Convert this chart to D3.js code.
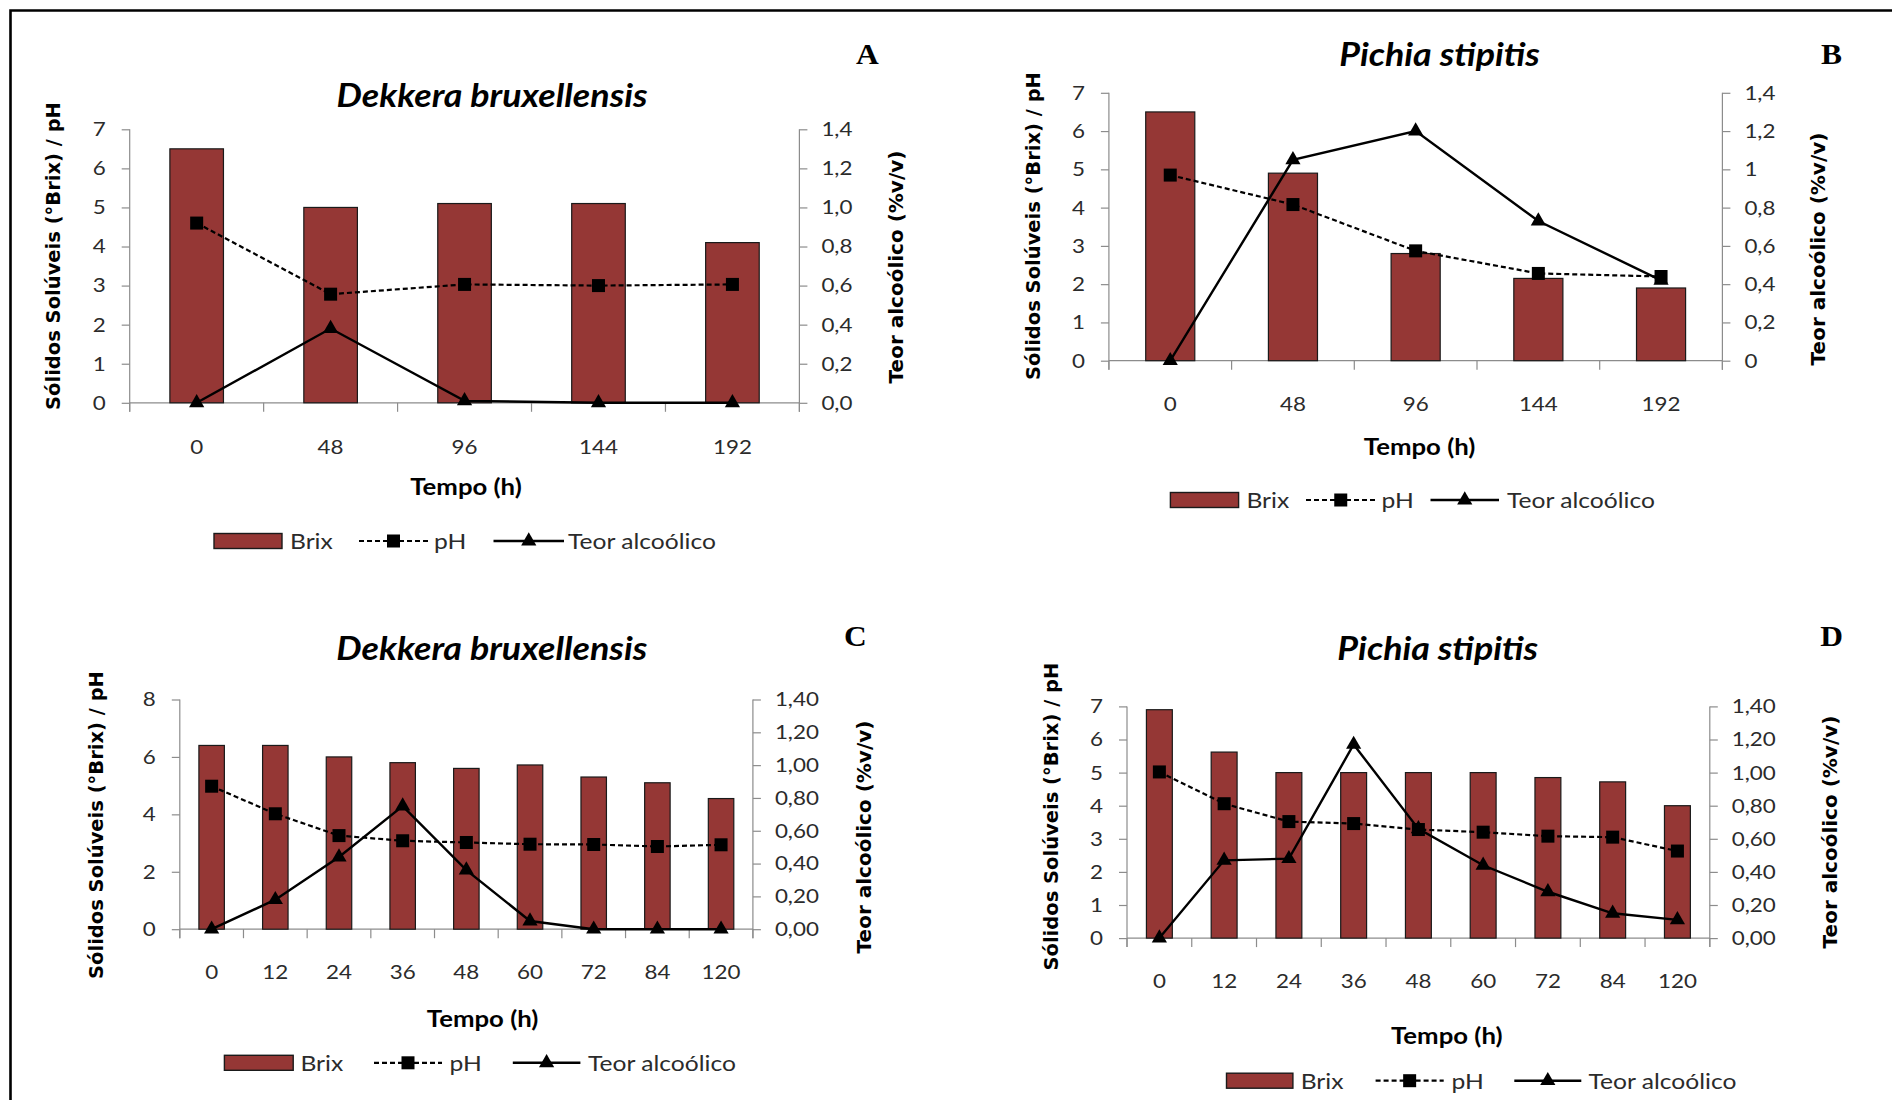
<!DOCTYPE html>
<html>
<head>
<meta charset="utf-8">
<script src="https://cdn.jsdelivr.net/npm/d3@7"></script>
<style>
  html, body { margin: 0; padding: 0; background: #fff; }
  svg { display: block; }
</style>
</head>
<body>
<svg id="fig" width="1892" height="1100"></svg>
<script>
// ---- Data -------------------------------------------------------------
const catsLong  = ["0", "48", "96", "144", "192"];
const catsShort = ["0", "12", "24", "36", "48", "60", "72", "84", "120"];

// A: Dekkera bruxellensis, 0-192 h
const brixA = [6.5, 5.0, 5.1, 5.1, 4.1];
const phA   = [4.6, 2.78, 3.03, 3.0, 3.03];
const alcA  = [0, 0.38, 0.01, 0, 0];

// B: Pichia stipitis, 0-192 h
const brixB = [6.5, 4.9, 2.8, 2.15, 1.9];
const phB   = [4.85, 4.08, 2.87, 2.28, 2.2];
const alcB  = [0, 1.05, 1.2, 0.73, 0.42];

// C: Dekkera bruxellensis, 0-120 h
const brixC = [6.4, 6.4, 6.0, 5.8, 5.6, 5.72, 5.3, 5.1, 4.55];
const phC   = [4.98, 4.02, 3.26, 3.08, 3.02, 2.96, 2.95, 2.88, 2.94];
const alcC  = [0, 0.18, 0.44, 0.75, 0.36, 0.05, 0, 0, 0];

// D: Pichia stipitis, 0-120 h
const brixD = [6.9, 5.62, 5.0, 5.0, 5.0, 5.0, 4.85, 4.72, 4.0];
const phD   = [5.02, 4.06, 3.52, 3.46, 3.28, 3.2, 3.08, 3.05, 2.63];
const alcD  = [0, 0.47, 0.48, 1.17, 0.66, 0.44, 0.28, 0.15, 0.11];

// Axis ticks and labels
const leftTicks7 = [0, 1, 2, 3, 4, 5, 6, 7];
const leftTicks8 = [0, 2, 4, 6, 8];
const rightTicks = [0, 0.2, 0.4, 0.6, 0.8, 1.0, 1.2, 1.4];
const rightLabelsA = ["0,0", "0,2", "0,4", "0,6", "0,8", "1,0", "1,2", "1,4"];
const rightLabelsB = ["0", "0,2", "0,4", "0,6", "0,8", "1", "1,2", "1,4"];
const rightLabelsCD = ["0,00", "0,20", "0,40", "0,60", "0,80", "1,00", "1,20", "1,40"];

const titleDekkera = "Dekkera bruxellensis";
const titlePichia  = "Pichia stipitis";
const xTitle = "Tempo (h)";
const yTitle = "Sólidos Solúveis (°Brix) / pH";
const rTitle = "Teor alcoólico (%v/v)";
const legendNames = ["Brix", "pH", "Teor alcoólico"];

// ---- Styling ----------------------------------------------------------
const BAR = "#953735";
const AXIS = "#8c8c8c";
const TXT = "#2b2b2b";
const SANS = "Lato, 'Open Sans', sans-serif";
const WIDE = "'DejaVu Sans', Verdana, sans-serif";
const SX = 1.12;           // horizontal stretch of the chart lettering

const svg = d3.select("#fig");

// outer frame (top and left edges)
svg.append("path")
  .attr("d", "M10.5,1100 V10.5 H1892")
  .attr("fill", "none").attr("stroke", "#000").attr("stroke-width", 2.6);

function stext(g, x, y, str, o = {}) {
  return g.append("text")
    .attr("transform", `translate(${x},${y}) scale(${o.sx ?? SX},1)`)
    .attr("text-anchor", o.anchor || "start")
    .attr("dominant-baseline", o.baseline || "auto")
    .attr("font-family", o.family || SANS)
    .attr("font-size", o.size || 20)
    .attr("font-weight", o.weight || "normal")
    .attr("font-style", o.style || "normal")
    .attr("fill", o.fill || TXT)
    .text(str);
}

function rtext(g, x, y, str, size) {
  return g.append("text")
    .attr("transform", `translate(${x},${y}) rotate(-90)`)
    .attr("text-anchor", "middle")
    .attr("dominant-baseline", "central")
    .attr("font-family", WIDE)
    .attr("font-size", size)
    .attr("font-weight", "bold")
    .attr("fill", "#000")
    .text(str);
}

const triangle = d3.symbol().type(d3.symbolTriangle).size(100);

function drawPanel(p) {
  const g = svg.append("g");
  const x = d3.scaleBand().domain(p.cats).range([p.left, p.right]).padding(0);
  const bw = x.bandwidth();
  const cx = c => x(c) + bw / 2;
  const yL = d3.scaleLinear().domain([0, p.leftMax]).range([p.y0, p.yTop]);
  const yR = d3.scaleLinear().domain([0, 1.4]).range([p.y0, p.yTop]);

  // axes
  const styleAxis = (a, pad) => {
    a.select(".domain").remove();
    a.selectAll("line").attr("stroke", AXIS).attr("stroke-width", 1.2);
    a.selectAll("text")
      .attr("font-family", SANS).attr("font-size", 20).attr("fill", TXT)
      .attr("x", pad / SX).attr("transform", `scale(${SX},1)`);
  };
  const aL = g.append("g").attr("transform", `translate(${p.left},0)`)
    .call(d3.axisLeft(yL).tickValues(p.leftTicks).tickFormat(d3.format("d"))
      .tickSize(8).tickSizeOuter(0).tickPadding(16));
  styleAxis(aL, -24);
  const aR = g.append("g").attr("transform", `translate(${p.right},0)`)
    .call(d3.axisRight(yR).tickValues(rightTicks).tickFormat((d, i) => p.rightLabels[i])
      .tickSize(8).tickSizeOuter(0).tickPadding(14));
  styleAxis(aR, 22);

  const axisLines = g.append("g").attr("stroke", AXIS).attr("stroke-width", 1.2);
  axisLines.append("line").attr("x1", p.left).attr("x2", p.left).attr("y1", p.yTop).attr("y2", p.y0 + 9);
  axisLines.append("line").attr("x1", p.right).attr("x2", p.right).attr("y1", p.yTop).attr("y2", p.y0 + 9);
  axisLines.append("line").attr("x1", p.left).attr("x2", p.right).attr("y1", p.y0).attr("y2", p.y0);
  const bounds = p.cats.map(c => x(c)).concat([p.right]);
  axisLines.selectAll(".bt").data(bounds).join("line")
    .attr("x1", d => d).attr("x2", d => d).attr("y1", p.y0).attr("y2", p.y0 + 9);

  // category labels
  p.cats.forEach(c => stext(g, cx(c), p.xlabY, c, { anchor: "middle", baseline: "central" }));

  // bars
  g.append("g").selectAll("rect").data(p.brix).join("rect")
    .attr("x", (d, i) => x(p.cats[i]) + bw * 0.3)
    .attr("width", bw * 0.4)
    .attr("y", d => yL(d))
    .attr("height", d => p.y0 - yL(d))
    .attr("fill", BAR).attr("stroke", "#1a1a1a").attr("stroke-width", 1.2);

  // pH (left axis), dashed
  const linePh = d3.line().x((d, i) => cx(p.cats[i])).y(d => yL(d));
  g.append("path").datum(p.ph).attr("d", linePh)
    .attr("fill", "none").attr("stroke", "#000").attr("stroke-width", 2.2)
    .attr("stroke-dasharray", "5,3");
  // alcohol (right axis), solid
  const lineAlc = d3.line().x((d, i) => cx(p.cats[i])).y(d => yR(d));
  g.append("path").datum(p.alc).attr("d", lineAlc)
    .attr("fill", "none").attr("stroke", "#000").attr("stroke-width", 2.4);

  g.append("g").selectAll("rect").data(p.ph).join("rect")
    .attr("x", (d, i) => cx(p.cats[i]) - 6.5).attr("y", d => yL(d) - 6.5)
    .attr("width", 13).attr("height", 13).attr("fill", "#000");
  g.append("g").selectAll("path").data(p.alc).join("path")
    .attr("d", triangle)
    .attr("transform", (d, i) => `translate(${cx(p.cats[i])},${yR(d)})`)
    .attr("fill", "#000");

  // titles
  stext(g, p.titlePos[0], p.titlePos[1], p.title,
    { anchor: "middle", size: 32, weight: "bold", style: "italic", fill: "#000" });
  stext(g, p.letterPos[0], p.letterPos[1], p.letter,
    { anchor: "middle", size: 30, weight: "bold", family: "'Liberation Serif', 'Times New Roman', serif", fill: "#000", sx: 1.05 });
  stext(g, p.tempoPos[0], p.tempoPos[1], xTitle,
    { anchor: "middle", baseline: "central", size: 23, weight: "bold", fill: "#000" });
  rtext(g, p.yTitlePos[0], p.yTitlePos[1], yTitle, 19.5);
  rtext(g, p.rTitlePos[0], p.rTitlePos[1], rTitle, 20);

  // legend
  const L = p.legend, ly = p.legendY;
  const lg = g.append("g");
  lg.append("rect").attr("x", L.rect[0]).attr("y", ly - 7.5)
    .attr("width", L.rect[1] - L.rect[0]).attr("height", 15)
    .attr("fill", BAR).attr("stroke", "#1a1a1a").attr("stroke-width", 1.4);
  stext(lg, L.brixText, ly, legendNames[0], { baseline: "central", size: 22 });
  lg.append("line").attr("x1", L.ph[0]).attr("x2", L.ph[1]).attr("y1", ly).attr("y2", ly)
    .attr("stroke", "#000").attr("stroke-width", 2.2).attr("stroke-dasharray", "5,3");
  lg.append("rect").attr("x", (L.ph[0] + L.ph[1]) / 2 - 6.5).attr("y", ly - 6.5)
    .attr("width", 13).attr("height", 13).attr("fill", "#000");
  stext(lg, L.phText, ly, legendNames[1], { baseline: "central", size: 22 });
  lg.append("line").attr("x1", L.teor[0]).attr("x2", L.teor[1]).attr("y1", ly).attr("y2", ly)
    .attr("stroke", "#000").attr("stroke-width", 2.4);
  lg.append("path").attr("d", triangle)
    .attr("transform", `translate(${(L.teor[0] + L.teor[1]) / 2},${ly})`).attr("fill", "#000");
  stext(lg, L.teorText, ly, legendNames[2], { baseline: "central", size: 22 });
}

drawPanel({
  cats: catsLong, brix: brixA, ph: phA, alc: alcA,
  leftMax: 7, leftTicks: leftTicks7, rightLabels: rightLabelsA,
  left: 129.7, right: 799.4, y0: 402.8, yTop: 129.3,
  title: titleDekkera, titlePos: [492, 107], letter: "A", letterPos: [867.5, 63.5],
  xlabY: 446, tempoPos: [466, 486], yTitlePos: [53, 256], rTitlePos: [896, 267],
  legendY: 541,
  legend: { rect: [214, 282], brixText: 290, ph: [359, 428], phText: 434, teor: [493.5, 564], teorText: 568 }
});

drawPanel({
  cats: catsLong, brix: brixB, ph: phB, alc: alcB,
  leftMax: 7, leftTicks: leftTicks7, rightLabels: rightLabelsB,
  left: 1108.9, right: 1722.4, y0: 360.7, yTop: 92.8,
  title: titlePichia, titlePos: [1439.5, 66], letter: "B", letterPos: [1831.6, 63.5],
  xlabY: 403.5, tempoPos: [1419.6, 446.4], yTitlePos: [1033.5, 226], rTitlePos: [1817.8, 249],
  legendY: 500,
  legend: { rect: [1170.4, 1238.6], brixText: 1246.4, ph: [1306, 1375.5], phText: 1381.6, teor: [1430.5, 1499], teorText: 1507 }
});

drawPanel({
  cats: catsShort, brix: brixC, ph: phC, alc: alcC,
  leftMax: 8, leftTicks: leftTicks8, rightLabels: rightLabelsCD,
  left: 179.8, right: 752.9, y0: 929.2, yTop: 699.5,
  title: titleDekkera, titlePos: [491.7, 660], letter: "C", letterPos: [855.5, 646],
  xlabY: 971.5, tempoPos: [482.6, 1018], yTitlePos: [96.5, 825], rTitlePos: [864, 837],
  legendY: 1062.8,
  legend: { rect: [224.4, 293.2], brixText: 300.4, ph: [374, 442], phText: 449.5, teor: [512.8, 580.4], teorText: 588 }
});

drawPanel({
  cats: catsShort, brix: brixD, ph: phD, alc: alcD,
  leftMax: 7, leftTicks: leftTicks7, rightLabels: rightLabelsCD,
  left: 1127, right: 1709.8, y0: 938.1, yTop: 706.4,
  title: titlePichia, titlePos: [1437.7, 660], letter: "D", letterPos: [1831.6, 646],
  xlabY: 980.8, tempoPos: [1446.8, 1034.6], yTitlePos: [1051.6, 816.6], rTitlePos: [1829.9, 832],
  legendY: 1080.7,
  legend: { rect: [1226.5, 1292.9], brixText: 1300.7, ph: [1375.6, 1443.7], phText: 1451.6, teor: [1514.3, 1581.3], teorText: 1588.5 }
});
</script>
</body>
</html>
